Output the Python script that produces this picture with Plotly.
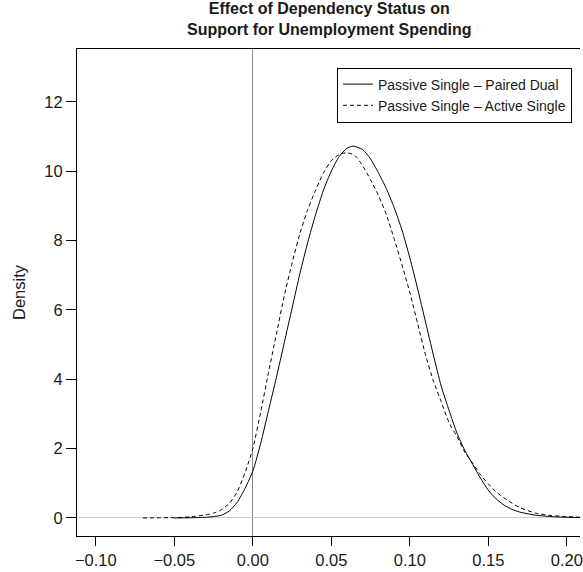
import plotly.graph_objects as go

# Passive Single – Paired Dual (solid)
x_pd = [-0.050, -0.040, -0.030, -0.025, -0.020, -0.015, -0.010, -0.005, 0.000, 0.005,
        0.010, 0.015, 0.020, 0.025, 0.030, 0.035, 0.040, 0.045, 0.050, 0.055,
        0.060, 0.064, 0.070, 0.075, 0.080, 0.085, 0.090, 0.095, 0.100, 0.105,
        0.110, 0.115, 0.120, 0.125, 0.130, 0.135, 0.140, 0.145, 0.150, 0.155,
        0.160, 0.165, 0.170, 0.180, 0.190, 0.200, 0.215]
y_pd = [0.00, 0.005, 0.02, 0.04, 0.08, 0.20, 0.45, 0.85, 1.35, 2.15,
        3.10, 4.05, 5.05, 6.05, 7.05, 7.95, 8.75, 9.45, 10.00, 10.42,
        10.66, 10.72, 10.62, 10.35, 9.95, 9.50, 8.95, 8.30, 7.50, 6.60,
        5.65, 4.70, 3.80, 3.10, 2.45, 1.95, 1.55, 1.15, 0.80, 0.55,
        0.37, 0.25, 0.17, 0.08, 0.04, 0.02, 0.005]

# Passive Single – Active Single (dashed)
x_as = [-0.070, -0.060, -0.050, -0.040, -0.030, -0.025, -0.020, -0.015, -0.010, -0.005,
        0.000, 0.005, 0.010, 0.015, 0.020, 0.025, 0.030, 0.035, 0.040, 0.045,
        0.050, 0.055, 0.060, 0.065, 0.070, 0.075, 0.080, 0.085, 0.090, 0.095,
        0.100, 0.105, 0.110, 0.115, 0.120, 0.125, 0.130, 0.135, 0.140, 0.145,
        0.150, 0.155, 0.160, 0.165, 0.170, 0.180, 0.190, 0.200, 0.215]
y_as = [0.00, 0.005, 0.01, 0.03, 0.09, 0.14, 0.24, 0.42, 0.75, 1.30,
        2.00, 3.05, 4.20, 5.30, 6.40, 7.35, 8.20, 8.90, 9.45, 9.95,
        10.30, 10.48, 10.53, 10.45, 10.15, 9.75, 9.30, 8.75, 8.05, 7.30,
        6.50, 5.60, 4.70, 3.95, 3.35, 2.75, 2.35, 1.90, 1.58, 1.25,
        0.98, 0.75, 0.58, 0.43, 0.30, 0.14, 0.07, 0.04, 0.01]

x_ticks = [-0.10, -0.05, 0.00, 0.05, 0.10, 0.15, 0.20]
y_ticks = [0, 2, 4, 6, 8, 10, 12]

title_lines = ["Effect of Dependency Status on", "Support for Unemployment Spending"]

FONT = "Liberation Sans, Arial, sans-serif"

fig = go.Figure()
fig.add_trace(go.Scatter(x=x_pd, y=y_pd, mode="lines", name="Passive Single \u2013 Paired Dual",
                         line=dict(color="black", width=1, shape="spline", smoothing=0.6)))
fig.add_trace(go.Scatter(x=x_as, y=y_as, mode="lines", name="Passive Single \u2013 Active Single",
                         line=dict(color="black", width=1, dash="4px,3px", shape="spline", smoothing=0.6)))

fig.update_layout(
    width=583, height=572,
    margin=dict(l=77, r=0, t=49, b=36),
    paper_bgcolor="white", plot_bgcolor="white",
    font=dict(family=FONT, color="#1a1a1a"),
    showlegend=True,
    legend=dict(x=0.984, xanchor="right", y=0.962, yanchor="top",
                bordercolor="black", borderwidth=1, bgcolor="white",
                font=dict(family=FONT, size=14, color="#1a1a1a"),
                tracegroupgap=0),
    annotations=[dict(text="<b>" + "<br>".join(title_lines) + "</b>",
                      xref="paper", yref="paper", x=0.5, y=1.0,
                      xanchor="center", yanchor="bottom", yshift=9,
                      showarrow=False, align="center",
                      font=dict(family=FONT, size=16, color="#1a1a1a"))],
)

fig.update_xaxes(range=[-0.1120, 0.2084], tickvals=x_ticks, tickformat=".2f",
                 ticks="outside", ticklen=9, tickcolor="black", tickwidth=1,
                 showline=True, linecolor="black", linewidth=1, mirror=True,
                 showgrid=False, zeroline=True, zerolinecolor="#888888", zerolinewidth=1,
                 tickfont=dict(family=FONT, size=16.5, color="#1a1a1a"),
                 ticklabeloverflow="allow")
fig.update_yaxes(range=[-0.52, 13.52], tickvals=y_ticks,
                 ticks="outside", ticklen=10, tickcolor="black", tickwidth=1,
                 showline=True, linecolor="black", linewidth=1, mirror=False,
                 showgrid=False, zeroline=True, zerolinecolor="#cccccc", zerolinewidth=1,
                 tickfont=dict(family=FONT, size=16.5, color="#1a1a1a"),
                 title=dict(text="Density", font=dict(family=FONT, size=16.5, color="#1a1a1a"), standoff=14))

fig.write_html("out.html")
